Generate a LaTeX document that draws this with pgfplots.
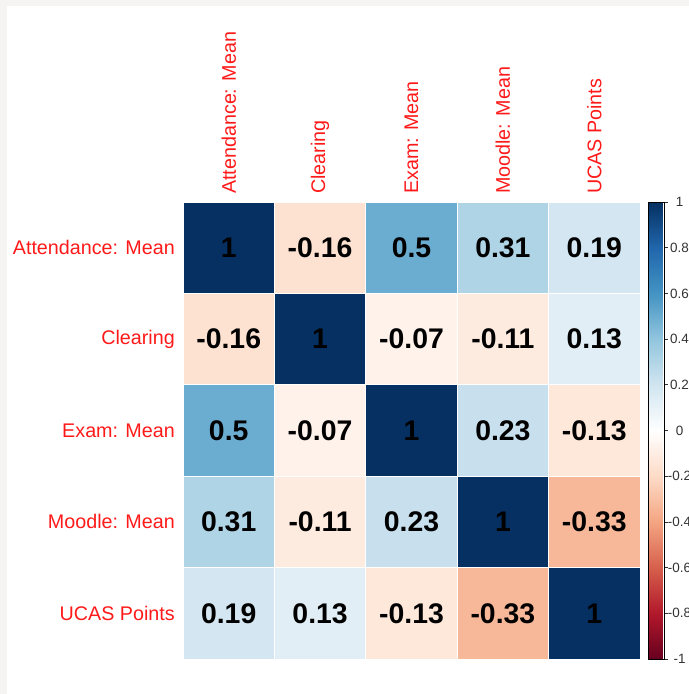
\documentclass[border=0pt]{standalone}
\usepackage{pgfplots}
\usepackage{pgfplotstable}
\pgfplotsset{compat=1.18}
\usepackage{fontspec}
\setmainfont{Liberation Sans}
\definecolor{framegray}{HTML}{F5F4F2}
\definecolor{lblred}{HTML}{FF1A1A}

\pgfplotstableread{
x y c
0 0 1
1 0 -0.16
2 0 0.5
3 0 0.31
4 0 0.19
0 1 -0.16
1 1 1
2 1 -0.07
3 1 -0.11
4 1 0.13
0 2 0.5
1 2 -0.07
2 2 1
3 2 0.23
4 2 -0.13
0 3 0.31
1 3 -0.11
2 3 0.23
3 3 1
4 3 -0.33
0 4 0.19
1 4 0.13
2 4 -0.13
3 4 -0.33
4 4 1
}\corr

\begin{document}
\begin{tikzpicture}
\fill[framegray] (0,0) rectangle (689bp,694bp);
\fill[white] (7bp,0) rectangle (689bp,688bp);
\begin{axis}[
  at={(183bp,35bp)}, anchor=south west,
  scale only axis, width=457bp, height=457bp,
  xmin=-0.5, xmax=4.5, ymin=-0.5, ymax=4.5,
  y dir=reverse,
  axis line style={draw=none},
  major tick length=0pt,
  xtick={0,1,2,3,4}, ytick={0,1,2,3,4},
  xticklabels={Attendance: Mean, Clearing, Exam: Mean, Moodle: Mean, UCAS Points},
  yticklabels={Attendance: Mean, Clearing, Exam: Mean, Moodle: Mean, UCAS Points},
  xticklabel pos=upper,
  ticklabel style={text=lblred, font=\fontsize{19.8}{22}\selectfont},
  xticklabel style={rotate=90, anchor=west, inner sep=0pt},
  yticklabel style={anchor=east, inner sep=0pt},
  xticklabel shift=8bp, yticklabel shift=8bp,
  colormap={rdbu}{rgb255=(103,0,31) rgb255=(178,24,43) rgb255=(214,96,77) rgb255=(244,165,130) rgb255=(253,219,199) rgb255=(255,255,255) rgb255=(209,229,240) rgb255=(146,197,222) rgb255=(67,147,195) rgb255=(33,102,172) rgb255=(5,48,97)},
  point meta min=-1, point meta max=1,
  colorbar right,
  colorbar style={
    scale only axis,
    width=16bp, height=457bp,
    at={(parent axis.north east)}, anchor=north west, xshift=0bp,
    axis line style={draw=black, line width=0.8bp},
    ytick={-1,-0.8,-0.6,-0.4,-0.2,0,0.2,0.4,0.6,0.8,1},
    yticklabels={-1,-0.8,-0.6,-0.4,-0.2,0,0.2,0.4,0.6,0.8,1},
    yticklabel style={font=\fontsize{13.5}{15}\selectfont, text=black!80, anchor=center, xshift=12bp, inner sep=0pt},
    tick align=outside, major tick length=3bp,
    tick style={black!80, line width=0.6bp},
    ytick pos=right,
  },
]
\addplot[matrix plot*, mesh/cols=5, point meta=explicit, draw=white, line width=0.7bp]
  table[x=x, y=y, meta=c] {\corr};
\addplot[draw=none, mark=none, nodes near coords, point meta=explicit symbolic,
  nodes near coords style={anchor=center, font=\fontsize{28.5}{30}\selectfont\bfseries, text=black, inner sep=0pt}]
  table[x=x, y=y, meta=c] {\corr};
\end{axis}
\pgfresetboundingbox
\path[use as bounding box] (0,0) rectangle (689bp,694bp);
\end{tikzpicture}
\end{document}
